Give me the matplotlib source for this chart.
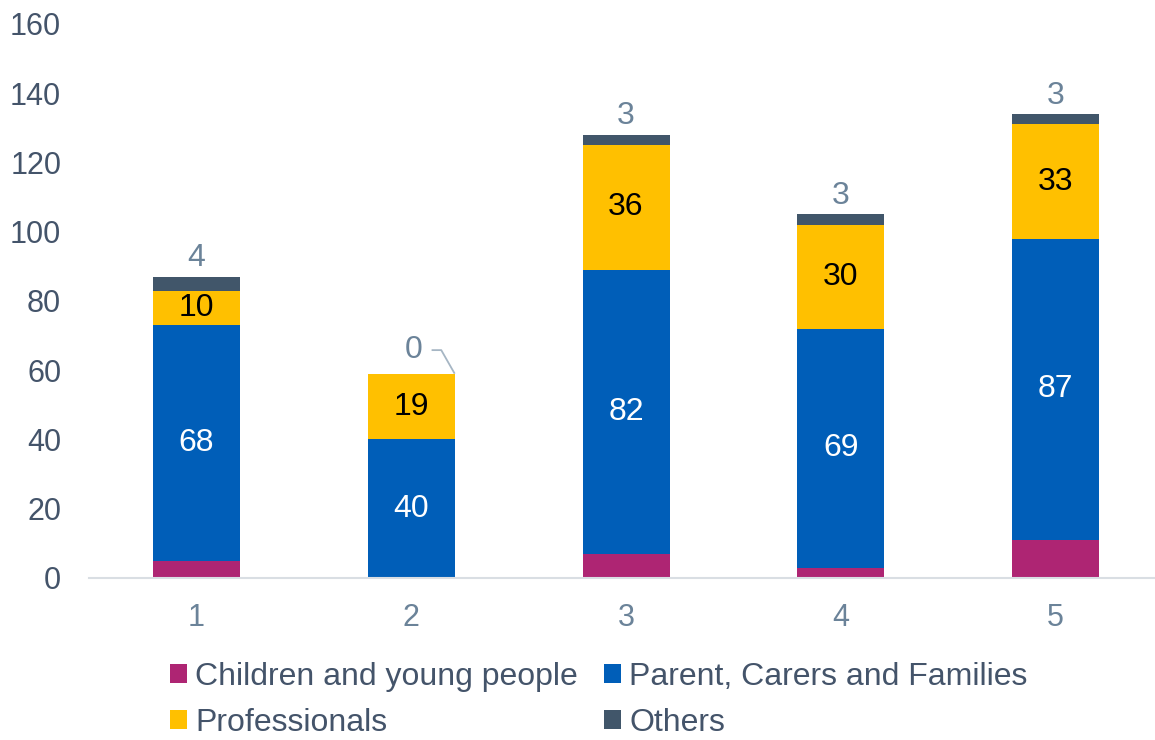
import matplotlib.pyplot as plt
import numpy as np

plt.rcParams['font.family'] = ['Liberation Sans', 'DejaVu Sans']

categories = ['1', '2', '3', '4', '5']
children = [5, 0, 7, 3, 11]
parents = [68, 40, 82, 69, 87]
professionals = [10, 19, 36, 30, 33]
others = [4, 0, 3, 3, 3]

series = [
    ('Children and young people', children, '#AE2573'),
    ('Parent, Carers and Families', parents, '#005EB8'),
    ('Professionals', professionals, '#FFC000'),
    ('Others', others, '#41566A'),
]

axis_col = '#44546A'
label_col = '#6B8399'
fs = 23

fig = plt.figure(figsize=(11.55, 7.4), dpi=100)
ax = fig.add_axes([0.077, 0.219, 0.93, 0.7486])

x = np.arange(len(categories))
width = 0.405
bottom = np.zeros(len(categories))
handles = []
for name, vals, col in series:
    vals = np.array(vals, dtype=float)
    handles.append(ax.bar(x, vals, width, bottom=bottom, color=col, label=name))
    bottom += vals

# values inside the middle segments
for i in range(len(categories)):
    base = children[i]
    ax.text(x[i], base + parents[i] / 2, str(parents[i]), ha='center', va='center',
            color='white', fontsize=fs)
    base += parents[i]
    ax.text(x[i], base + professionals[i] / 2, str(professionals[i]), ha='center',
            va='center', color='black', fontsize=fs)

# "Others" shown above each stack
for i in range(len(categories)):
    top = bottom[i]
    if others[i] == 0:
        ly = top + 6.8
        ax.text(x[i] + 0.01, ly, str(others[i]), ha='center', va='center',
                color=label_col, fontsize=fs)
        ax.plot([x[i] + 0.095, x[i] + 0.14, x[i] + width / 2], [ly, ly, top],
                color='#A6B6C4', lw=1.3, solid_capstyle='butt')
    else:
        ax.text(x[i], top + 1.0, str(others[i]), ha='center', va='bottom',
                color=label_col, fontsize=fs)

ax.set_ylim(0, 160)
ax.set_xlim(-0.5, 4.5)
ax.set_yticks(np.arange(0, 161, 20))
ax.set_xticks(x)
ax.set_xticklabels(categories)
ax.tick_params(axis='y', length=0, labelsize=22, labelcolor=axis_col, pad=20)
ax.tick_params(axis='x', length=0, labelsize=22, labelcolor=label_col, pad=18)
for side in ['top', 'right', 'left']:
    ax.spines[side].set_visible(False)
ax.spines['bottom'].set_color('#D9DEE3')
ax.spines['bottom'].set_linewidth(1.5)

# row-major legend order: children, parents / professionals, others
order = [0, 2, 1, 3]
leg = fig.legend([handles[k] for k in order], [series[k][0] for k in order],
                 loc='upper left', ncol=2, frameon=False, fontsize=fs,
                 handlelength=0.55, handleheight=0.55, handletextpad=0.25,
                 columnspacing=0.8, labelspacing=0.5,
                 borderpad=0, borderaxespad=0)
leg.set_bbox_to_anchor((0.147, 1 - 662 / 740), transform=fig.transFigure)
for t in leg.get_texts():
    t.set_color(axis_col)

fig.savefig('out.png', dpi=100)
